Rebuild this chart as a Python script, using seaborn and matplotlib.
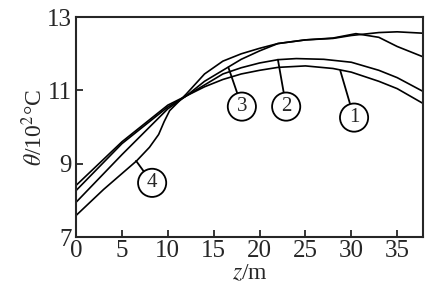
import matplotlib
matplotlib.use("Agg")
import matplotlib.pyplot as plt
import seaborn as sns
import pandas as pd

sns.set_style("ticks")
plt.rcParams['font.family'] = ['Liberation Serif', 'DejaVu Serif']
plt.rcParams['mathtext.fontset'] = 'stix'

# data
z1 = [0, 5, 10, 12, 14, 16, 18, 20, 22, 25, 28, 30, 33, 35, 38]
t1 = [8.41, 9.6, 10.6, 10.85, 11.1, 11.3, 11.45, 11.55, 11.63, 11.67, 11.6, 11.5, 11.25, 11.05, 10.62]
z2 = [0, 5, 10, 12, 14, 16, 18, 20, 22, 24, 27, 30, 33, 35, 38]
t2 = [8.27, 9.55, 10.55, 10.85, 11.15, 11.45, 11.62, 11.75, 11.84, 11.87, 11.85, 11.77, 11.55, 11.35, 10.95]
z3 = [0, 5, 10, 12, 14, 16.6, 18, 20, 22, 25, 28, 30.5, 33, 35, 38]
t3 = [7.95, 9.25, 10.5, 10.85, 11.25, 11.64, 11.85, 12.08, 12.28, 12.38, 12.43, 12.55, 12.45, 12.2, 11.9]
z4 = [0, 3, 6.6, 8, 9, 9.6, 10.2, 12, 14, 16, 18, 20, 22, 25, 28, 30, 33, 35, 38]
t4 = [7.59, 8.3, 9.08, 9.45, 9.8, 10.15, 10.45, 10.9, 11.45, 11.8, 12.0, 12.15, 12.28, 12.38, 12.42, 12.5, 12.58, 12.6, 12.56]

labels = ['1', '2', '3', '4']
leader_ends = [(28.8, 11.54), (22.0, 11.84), (16.6, 11.63), (6.54, 9.08)]
circle_pos = [(30.3, 10.26), (22.9, 10.56), (18.07, 10.56), (8.29, 8.48)]

xticks = [0, 5, 10, 15, 20, 25, 30, 35]
yticks = [7, 9, 11, 13]

fig = plt.figure(figsize=(4.25, 2.86), dpi=100)
ax = fig.add_axes([0.179, 0.171, 0.816, 0.769])

for zz, tt in [(z1, t1), (z2, t2), (z3, t3), (z4, t4)]:
    df = pd.DataFrame({'z': zz, 't': tt})
    sns.lineplot(data=df, x='z', y='t', ax=ax, color='black', lw=1.2, sort=False)

for lab, (xe, ye), (xc, yc) in zip(labels, leader_ends, circle_pos):
    ax.annotate(lab, xy=(xe, ye), xytext=(xc, yc), ha='center', va='center',
                fontsize=15,
                bbox=dict(boxstyle='circle,pad=0.22', fc='white', ec='black', lw=1.3),
                arrowprops=dict(arrowstyle='-', color='black', lw=1.3, shrinkA=0, shrinkB=0))

ax.set_xlim(0, 37.8)
ax.set_ylim(7, 13)
ax.set_xticks(xticks)
ax.set_yticks(yticks)
ax.tick_params(direction='in', length=5, width=1.3, labelsize=18)
ax.tick_params(axis='x', pad=2)
ax.tick_params(axis='y', pad=3)
for s in ax.spines.values():
    s.set_linewidth(1.5)
ax.set_xlabel(r'$z$/m', fontsize=17, labelpad=1)
ax.set_ylabel(r'$\theta$/10$^{2}$°C', fontsize=17, labelpad=0)

fig.savefig('out.png', dpi=100)
